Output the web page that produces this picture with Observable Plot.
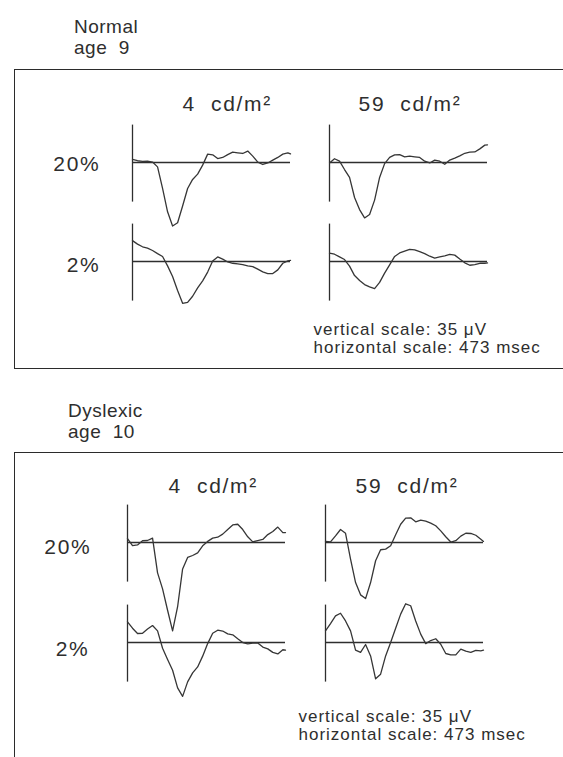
<!DOCTYPE html>
<html><head><meta charset="utf-8">
<script src="https://cdn.jsdelivr.net/npm/d3@7"></script>
<script src="https://cdn.jsdelivr.net/npm/@observablehq/plot@0.6"></script>
<style>
html,body{margin:0;padding:0;background:#fff;}
body{width:563px;height:757px;position:relative;overflow:hidden;font-family:"Liberation Sans",Arial,sans-serif;color:#2e2e2e;}
.hdr{position:absolute;font-size:19px;line-height:19px;letter-spacing:0.5px;white-space:nowrap;}
.box{position:absolute;border:1.6px solid #2b2b2b;box-sizing:border-box;}
.chart{position:absolute;left:0;}
.chart svg{overflow:visible;display:block;}
</style></head><body>
<div class="hdr" style="left:74px;top:17px">Normal</div>
<div class="hdr" style="left:74px;top:38px">age&nbsp; 9</div>
<div class="box" style="left:14px;top:69px;width:700px;height:300px"></div>
<div class="chart" id="c1" style="top:68px"></div>
<div class="hdr" style="left:68px;top:401px">Dyslexic</div>
<div class="hdr" style="left:68px;top:422px">age&nbsp; 10</div>
<div class="box" style="left:14px;top:452px;width:700px;height:400px"></div>
<div class="chart" id="c2" style="top:452px"></div>
<script>
// sample times (msec) along each trace
const times = [0,15,30,45,60,75,90,105,120,135,150,165,180,195,210,225,240,255,270,285,300,315,330,345,360,375,390,405,420,435,450,465,473];
const luminances = ["4\u00a0 cd/m\u00b2", "59\u00a0 cd/m\u00b2"];
const contrasts = ["20%", "2%"];
const captionText = "vertical scale: 35 \u03bcV\nhorizontal scale: 473 msec";
const axisRange = [-18, 17]; // vertical scale bar (μV)

// Normal, age 9 (μV)
const normal_4_20 = [1.4,0.8,0.5,0.6,0.2,-2.0,-11.8,-22.4,-28.9,-27.4,-19.8,-11.8,-7.7,-5.3,-1.2,3.8,3.5,1.8,2.3,3.6,4.7,4.4,4.1,5.2,2.9,0.2,-0.9,-0.2,1.1,2.3,3.8,4.4,3.9];
const normal_4_2 = [9.5,7.9,6.7,6.1,5.0,3.6,2.3,-2.0,-6.8,-13.2,-19.0,-18.6,-15.8,-12.0,-8.8,-4.8,0.2,2.1,1.1,-0.2,-0.8,-1.1,-1.4,-2.0,-2.3,-3.5,-4.7,-5.5,-5.5,-3.8,-0.8,0.3,0.5];
const normal_59_20 = [-0.2,1.7,0.6,-3.2,-6.8,-15.9,-21.4,-25.2,-23.6,-17.1,-6.8,-0.5,2.3,3.5,3.6,2.6,2.9,2.6,2.3,0.6,-0.2,1.1,0.6,-0.8,1.1,2.0,3.0,4.2,4.7,4.8,6.2,7.9,8.0];
const normal_59_2 = [3.8,3.3,2.1,0.9,-2.1,-6.4,-8.6,-10.5,-11.5,-12.3,-9.5,-5.3,-1.5,2.3,3.9,4.7,5.5,5.3,4.5,3.6,2.4,1.5,2.1,2.6,3.2,2.9,1.1,-0.6,-1.7,-1.4,-0.8,-0.8,-0.6];

// Dyslexic, age 10 (μV)
const dys_4_20 = [1.8,-1.4,-1.1,0.8,0.9,2.0,-13.8,-21.1,-30.8,-40.2,-29.2,-12.0,-6.8,-5.9,-4.7,-1.5,0.5,2.0,2.4,3.8,5.9,8.0,8.3,5.9,2.6,0.3,0.9,1.4,3.6,5.0,7.0,4.5,4.5];
const dys_4_2 = [9.4,6.5,4.1,4.2,6.1,7.7,5.3,-2.6,-7.7,-12.6,-20.6,-24.5,-17.9,-13.8,-11.1,-6.2,-0.5,4.2,5.6,5.2,3.9,3.5,1.7,0.0,-0.6,-0.3,-0.2,-2.1,-2.9,-4.5,-5.2,-3.3,-3.5];
const dys_59_20 = [0.5,0.3,3.0,5.9,4.2,-7.6,-18.2,-23.8,-25.5,-18.2,-8.3,-3.3,-3.0,-1.5,3.5,8.3,11.1,11.2,9.4,10.2,9.7,8.8,7.6,5.3,2.6,0.2,0.8,2.9,4.2,4.1,3.3,1.5,0.5];
const dys_59_2 = [5.3,8.6,12.1,13.3,9.8,5.3,-3.5,-4.5,-0.9,-6.1,-16.5,-14.4,-6.1,0.0,6.5,12.9,17.6,16.7,9.8,3.8,-0.5,0.9,1.7,-0.8,-5.0,-5.6,-5.6,-3.0,-3.9,-4.5,-3.6,-3.8,-3.5];

function rowsOf(series) {
  const rows = [];
  series.forEach(s => s.values.forEach((v, i) => rows.push({lum: s.lum, con: s.con, t: times[i], v})));
  return rows;
}
const normalRows = rowsOf([
  {lum: luminances[0], con: contrasts[0], values: normal_4_20},
  {lum: luminances[0], con: contrasts[1], values: normal_4_2},
  {lum: luminances[1], con: contrasts[0], values: normal_59_20},
  {lum: luminances[1], con: contrasts[1], values: normal_59_2}
]);
const dysRows = rowsOf([
  {lum: luminances[0], con: contrasts[0], values: dys_4_20},
  {lum: luminances[0], con: contrasts[1], values: dys_4_2},
  {lum: luminances[1], con: contrasts[0], values: dys_59_20},
  {lum: luminances[1], con: contrasts[1], values: dys_59_2}
]);

const FONT = "Liberation Sans, Arial, sans-serif";
const INK = "#2e2e2e";
const TRACE = "#363636";

function panel(rows, c) {
  const svg = Plot.plot({
    width: 563, height: c.height,
    marginLeft: c.left, marginRight: c.right, marginTop: c.top, marginBottom: c.bottom,
    style: {fontFamily: FONT, background: "transparent", color: INK, overflow: "visible"},
    fx: {domain: luminances, paddingInner: c.pad, paddingOuter: 0, round: false, axis: null},
    fy: {domain: contrasts, padding: 0, round: false, axis: null},
    x: {domain: [0, 473], axis: null},
    y: {domain: [-c.half, c.half], axis: null},
    marks: [
      Plot.ruleY([0], {stroke: INK, strokeWidth: 1.3}),
      Plot.ruleX([0], {y1: axisRange[0], y2: axisRange[1], stroke: INK, strokeWidth: 1.3}),
      Plot.line(rows, {x: "t", y: "v", fx: "lum", fy: "con", stroke: TRACE, strokeWidth: 1.3, strokeLinejoin: "round"}),
      Plot.text([luminances[0]], {fx: d => d, fy: () => contrasts[0], text: d => d, frameAnchor: "top-left", textAnchor: "start", lineAnchor: "bottom", dx: c.t1dx, dy: c.tdy, fontSize: 21, fill: INK}),
      Plot.text([luminances[1]], {fx: d => d, fy: () => contrasts[0], text: d => d, frameAnchor: "top-left", textAnchor: "start", lineAnchor: "bottom", dx: c.t2dx, dy: c.tdy, fontSize: 21, fill: INK}),
      Plot.text([contrasts[0]], {fx: () => luminances[0], fy: d => d, text: d => d, frameAnchor: "left", textAnchor: "end", lineAnchor: "middle", dx: c.r1dx, dy: c.r1dy, fontSize: 21, fill: INK}),
      Plot.text([contrasts[1]], {fx: () => luminances[0], fy: d => d, text: d => d, frameAnchor: "left", textAnchor: "end", lineAnchor: "middle", dx: c.r2dx, dy: c.r2dy, fontSize: 21, fill: INK}),
      Plot.text([captionText], {fx: () => luminances[1], fy: () => contrasts[1], text: d => d, frameAnchor: "bottom-left", textAnchor: "start", lineAnchor: "top", lineHeight: 1.1, dx: c.cdx, dy: c.cdy, fontSize: 17, fill: INK})
    ]
  });
  d3.select(svg).selectAll("text").each(function () {
    const g = this.closest("[font-size]");
    const fs = g ? g.getAttribute("font-size") : null;
    this.style.letterSpacing = fs === "17" ? "1px" : "1.7px";
  });
  return svg;
}

document.getElementById("c1").append(panel(normalRows, {
  height: 299, left: 132, right: 76, top: 44.5, bottom: 56.5, pad: 0.198, half: 22.5,
  t1dx: 50, t2dx: 29, tdy: -2.5, r1dx: -32, r1dy: 2, r2dx: -32, r2dy: 4, cdx: -16, cdy: 10.5
}));
document.getElementById("c2").append(panel(dysRows, {
  height: 305, left: 127, right: 80, top: 40, bottom: 65, pad: 0.202, half: 22.727,
  t1dx: 41, t2dx: 30, tdy: 0, r1dx: -36, r1dy: 5, r2dx: -38, r2dy: 7, cdx: -27, cdy: 16
}));
</script>
</body></html>
